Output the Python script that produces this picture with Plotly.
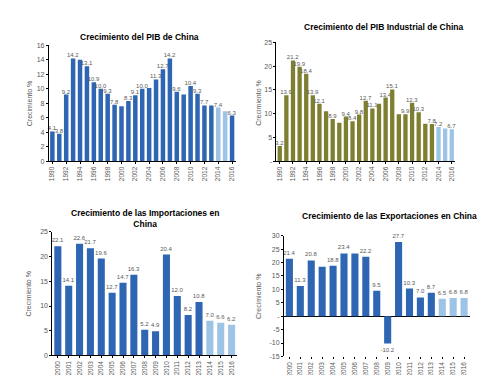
import plotly.graph_objects as go

W, H = 487, 375

# ---------------- data ----------------
years_pib = [str(y) for y in range(1990, 2017)]
pib = [4.1, 3.8, 9.2, 14.2, 14.0, 13.1, 10.9, 10.0, 9.3, 7.8, 7.6, 8.3, 9.1, 10.0,
       10.1, 11.3, 12.7, 14.2, 9.6, 9.2, 10.4, 9.3, 7.7, 7.7, 7.4, 6.9, 6.3]
pib_labels = ["4.1", "3.8", "9.2", "14.2", "", "13.1", "10.9", "10.0", "9.3", "7.8", "",
              "8.3", "9.1", "10.0", "", "11.3", "12.7", "14.2", "9.6", "", "10.4", "9.3",
              "7.7", "", "7.4", "", "6.3"]

pib_ind = [3.2, 13.9, 21.2, 19.9, 18.4, 13.9, 12.1, 10.5, 8.9, 8.1, 9.4, 8.4, 9.8, 12.7,
           11.1, 12.1, 13.4, 15.1, 9.9, 9.9, 12.3, 10.3, 7.9, 7.8, 7.2, 6.9, 6.7]
pib_ind_labels = ["3.2", "13.9", "21.2", "19.9", "18.4", "13.9", "12.1", "", "8.9", "",
                  "9.4", "8.4", "9.8", "12.7", "11.1", "", "13.4", "15.1", "", "9.9",
                  "12.3", "10.3", "", "7.8", "7.2", "", "6.7"]

years_trade = [str(y) for y in range(2000, 2017)]
imports = [22.1, 14.1, 22.6, 21.7, 19.6, 12.7, 14.7, 16.3, 5.2, 4.9, 20.4, 12.0, 8.2,
           10.8, 7.0, 6.6, 6.2]
imports_labels = ["22.1", "14.1", "22.6", "21.7", "19.6", "12.7", "14.7", "16.3", "5.2",
                  "4.9", "20.4", "12.0", "8.2", "10.8", "7.0", "6.6", "6.2"]

exports = [21.4, 11.3, 20.8, 18.4, 18.8, 23.4, 23.4, 22.2, 9.5, -10.2, 27.7, 10.3, 7.0,
           8.7, 6.5, 6.8, 6.8]
exports_labels = ["21.4", "11.3", "20.8", "", "18.8", "23.4", "", "22.2", "9.5", "-10.2",
                  "27.7", "10.3", "7.0", "8.7", "6.5", "6.8", "6.8"]

titles = ["Crecimiento del PIB de China",
          "Crecimiento del PIB Industrial de China",
          "Crecimiento de las Importaciones en<br>China",
          "Crecimiento de las Exportaciones en China"]
ytitle = "Crecimiento %"

DARK = "#2F66B3"
LIGHT = "#9DC3E6"
OLIVE = "#7F7F32"
GREY = "#595959"

def colors(years, base, last_light=True):
    out = []
    for y in years:
        if y >= "2014" and (last_light or y != "2016"):
            out.append(LIGHT)
        else:
            out.append(base)
    return out

c1 = colors(years_pib, DARK, last_light=False)
c2 = colors(years_pib, OLIVE)
c3 = colors(years_trade, DARK)
c4 = colors(years_trade, DARK)

def px_x(a, b):
    return [a / W, b / W]

def px_y(top, bottom):
    return [1 - bottom / H, 1 - top / H]

fig = go.Figure()

specs = [
    ("x", "y", years_pib, pib, pib_labels, c1),
    ("x2", "y2", years_pib, pib_ind, pib_ind_labels, c2),
    ("x3", "y3", years_trade, imports, imports_labels, c3),
    ("x4", "y4", years_trade, exports, exports_labels, c4),
]
for xa, ya, cats, vals, labs, cols in specs:
    fig.add_trace(go.Bar(
        x=cats, y=vals, text=labs, textposition="outside", constraintext="none",
        cliponaxis=False, marker=dict(color=cols, line=dict(width=0)),
        textfont=dict(size=6, color=GREY, family="Liberation Sans"),
        xaxis=xa, yaxis=ya, showlegend=False, hoverinfo="skip"))

tickfont = dict(size=7, color=GREY, family="Liberation Sans")
xtickfont = dict(size=6.5, color=GREY, family="Liberation Sans")
common_x = dict(type="category", showgrid=False, tickangle=-90, tickfont=xtickfont,
                showline=True, linecolor="#000000", linewidth=1, ticks="outside",
                ticklen=2, tickcolor="#000000")
common_y = dict(showgrid=False, zeroline=False, tickfont=tickfont, showline=True,
                linecolor="#000000", linewidth=1, ticks="outside", ticklen=2,
                tickcolor="#000000")

fig.update_layout(
    width=W, height=H, margin=dict(l=0, r=0, t=0, b=0),
    paper_bgcolor="white", plot_bgcolor="white",
    bargap=0.35, font=dict(family="Liberation Sans"),
    xaxis=dict(common_x, domain=px_x(40, 227), anchor="y",
               tickvals=years_pib[::2], range=[-0.5, 26.5]),
    yaxis=dict(common_y, domain=px_y(34, 152), anchor="x", range=[0, 16], dtick=2),
    xaxis2=dict(common_x, domain=px_x(268, 447), anchor="y2",
                tickvals=years_pib[::2], range=[-0.5, 26.5]),
    yaxis2=dict(common_y, domain=px_y(31, 152), anchor="x2", range=[0, 25],
                tickvals=[0, 5, 10, 15, 20, 25], ticktext=["-", "5", "10", "15", "20", "25"]),
    xaxis3=dict(common_x, domain=px_x(43.5, 228.5), anchor="y3", range=[-0.5, 16.5]),
    yaxis3=dict(common_y, domain=px_y(224, 350), anchor="x3", range=[0, 25], dtick=5),
    xaxis4=dict(common_x, domain=px_x(275.5, 461.5), anchor="y4", range=[-0.5, 16.5],
                showline=False),
    yaxis4=dict(common_y, domain=px_y(228, 351), anchor="x4", range=[-15, 30],
                tickvals=[-15, -10, -5, 0, 5, 10, 15, 20, 25, 30],
                ticktext=["-15", "-10", "-5", "-", "5", "10", "15", "20", "25", "30"],
                zeroline=True, zerolinecolor="#000000", zerolinewidth=1),
)

title_pos = [(131, 25), (375, 15), (136, 210), (381, 208)]
for t, (x, y) in zip(titles, title_pos):
    fig.add_annotation(text="<b>" + t + "</b>", x=x / W, y=1 - y / H, xref="paper",
                       yref="paper", showarrow=False, xanchor="center", yanchor="middle",
                       font=dict(size=8.5, color="#000000", family="Liberation Sans"))

ytitle_pos = [(20, 93), (250, 92), (20, 287), (250, 289)]
for x, y in ytitle_pos:
    fig.add_annotation(text=ytitle, x=x / W, y=1 - y / H, xref="paper", yref="paper",
                       showarrow=False, textangle=-90, xanchor="center", yanchor="middle",
                       font=dict(size=7, color=GREY, family="Liberation Sans"))

fig.write_html("out.html")
